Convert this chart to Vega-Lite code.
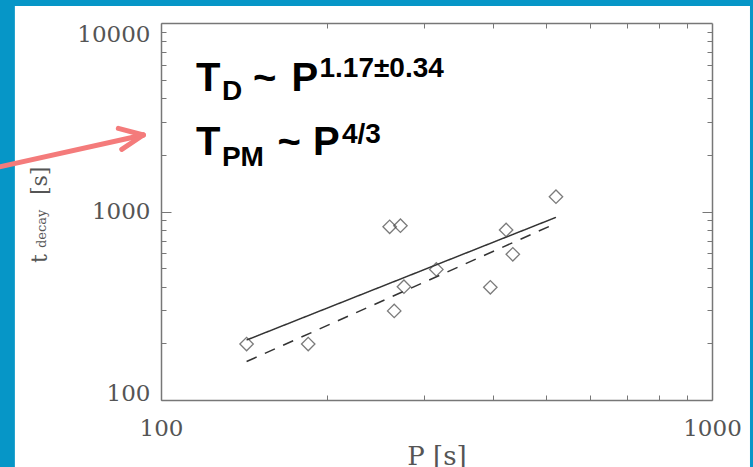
{
  "$schema": "https://vega.github.io/schema/vega-lite/v6.json",
  "width": 551,
  "height": 377,
  "autosize": {"type": "none"},
  "padding": {"left": 161, "top": 23, "right": 41, "bottom": 67},
  "background": "#0696c7",
  "config": {"view": {"stroke": null}},
  "datasets": {
    "points": [
      {"P": 143, "t": 198}, {"P": 185, "t": 198}, {"P": 260, "t": 830}, {"P": 272, "t": 841},
      {"P": 265, "t": 297}, {"P": 276, "t": 399}, {"P": 316, "t": 493}, {"P": 396, "t": 396},
      {"P": 423, "t": 798}, {"P": 435, "t": 593}, {"P": 521, "t": 1198}
    ],
    "fits": [
      {"fit": "solid", "P": 143, "t": 208}, {"fit": "solid", "P": 521, "t": 931},
      {"fit": "dashed", "P": 143, "t": 160}, {"fit": "dashed", "P": 521, "t": 865}
    ],
    "one": [{}]
  },
  "resolve": {"axis": {"x": "independent", "y": "independent"}},
  "layer": [
    {
      "data": {"name": "one"},
      "mark": {"type": "rect", "fill": "white"},
      "encoding": {
        "x": {"datum": 54.3, "type": "quantitative", "scale": {"type": "log", "domain": [100, 1000]}, "axis": null},
        "x2": {"datum": 1172},
        "y": {"datum": 12300, "type": "quantitative", "scale": {"type": "log", "domain": [100, 10000]}, "axis": null},
        "y2": {"datum": 40}
      }
    },
    {
      "data": {"name": "one"},
      "mark": {"type": "rule", "color": "#f47b7b", "strokeWidth": 5, "strokeCap": "round"},
      "encoding": {
        "x": {"datum": 50, "type": "quantitative", "scale": {"type": "log", "domain": [100, 1000]}, "axis": null},
        "x2": {"datum": 92.87},
        "y": {"datum": 1705, "type": "quantitative", "scale": {"type": "log", "domain": [100, 10000]}, "axis": null},
        "y2": {"datum": 2546}
      }
    },
    {
      "data": {"name": "one"},
      "mark": {"type": "rule", "color": "#f47b7b", "strokeWidth": 5, "strokeCap": "round"},
      "encoding": {
        "x": {"datum": 83.67, "type": "quantitative", "scale": {"type": "log", "domain": [100, 1000]}, "axis": null},
        "x2": {"datum": 92.87},
        "y": {"datum": 2763, "type": "quantitative", "scale": {"type": "log", "domain": [100, 10000]}, "axis": null},
        "y2": {"datum": 2546}
      }
    },
    {
      "data": {"name": "one"},
      "mark": {"type": "rule", "color": "#f47b7b", "strokeWidth": 5, "strokeCap": "round"},
      "encoding": {
        "x": {"datum": 84.88, "type": "quantitative", "scale": {"type": "log", "domain": [100, 1000]}, "axis": null},
        "x2": {"datum": 92.87},
        "y": {"datum": 2138, "type": "quantitative", "scale": {"type": "log", "domain": [100, 10000]}, "axis": null},
        "y2": {"datum": 2546}
      }
    },
    {
      "data": {"name": "fits"},
      "mark": {"type": "line", "color": "#333333", "strokeWidth": 1.5},
      "encoding": {
        "x": {"field": "P", "type": "quantitative", "scale": {"type": "log", "domain": [100, 1000]},
          "axis": {"orient": "top", "values": [200, 300, 400, 500, 600, 700, 800, 900], "tickSize": -5, "tickColor": "#777777", "labels": false, "title": null, "grid": false, "domain": true, "domainColor": "#777777", "domainWidth": 1.5, "zindex": 1}},
        "y": {"field": "t", "type": "quantitative", "scale": {"type": "log", "domain": [100, 10000]},
          "axis": {"orient": "right", "values": [200, 300, 400, 500, 600, 700, 800, 900, 2000, 3000, 4000, 5000, 6000, 7000, 8000, 9000], "tickSize": -5, "tickColor": "#777777", "labels": false, "title": null, "grid": false, "domain": true, "domainColor": "#777777", "domainWidth": 1.5, "zindex": 1}},
        "detail": {"field": "fit"},
        "strokeDash": {"field": "fit", "type": "nominal", "scale": {"domain": ["solid", "dashed"], "range": [[1, 0], [11, 9]]}, "legend": null}
      }
    },
    {
      "data": {"name": "points"},
      "mark": {"type": "point", "shape": "diamond", "size": 180, "filled": false, "stroke": "#444444", "strokeWidth": 1.3},
      "encoding": {
        "x": {"field": "P", "type": "quantitative", "scale": {"type": "log", "domain": [100, 1000]},
          "axis": {"orient": "bottom", "values": [100, 200, 300, 400, 500, 600, 700, 800, 900, 1000], "tickSize": -5, "tickColor": "#777777",
            "labelExpr": "datum.value == 100 || datum.value == 1000 ? datum.label : ''", "format": "d",
            "labelFont": "DejaVu Serif", "labelFontSize": 23, "labelColor": "#555555", "labelPadding": 22, "labelFlush": false,
            "title": "P [s]", "titleFont": "DejaVu Serif", "titleFontSize": 26, "titleFontWeight": "normal", "titleColor": "#555555",
            "titleY": 64, "titleBaseline": "alphabetic",
            "grid": false, "domain": true, "domainColor": "#777777", "domainWidth": 1.5, "zindex": 1}},
        "y": {"field": "t", "type": "quantitative", "scale": {"type": "log", "domain": [100, 10000]},
          "axis": {"orient": "left", "values": [100, 200, 300, 400, 500, 600, 700, 800, 900, 1000, 2000, 3000, 4000, 5000, 6000, 7000, 8000, 9000, 10000], "tickSize": -5, "tickColor": "#777777",
            "labelExpr": "datum.value == 100 || datum.value == 1000 || datum.value == 10000 ? datum.label : ''", "format": "d",
            "labelFont": "DejaVu Serif", "labelFontSize": 23, "labelColor": "#555555", "labelPadding": 16, "labelFlush": false,
            "labelBaseline": {"condition": [{"test": "datum.value >= 10000", "value": "top"}, {"test": "datum.value <= 100", "value": "alphabetic"}], "value": "middle"},
            "title": null, "grid": false, "domain": true, "domainColor": "#777777", "domainWidth": 1.5, "zindex": 1}}
      }
    },
    {
      "data": {"name": "points"},
      "mark": {"type": "point", "opacity": 0},
      "encoding": {
        "x": {"field": "P", "type": "quantitative", "scale": {"type": "log", "domain": [100, 1000]}, "axis": null},
        "y": {"field": "t", "type": "quantitative", "scale": {"type": "log", "domain": [100, 10000]},
          "axis": {"orient": "left", "values": [1000], "tickSize": -10, "tickColor": "#777777", "labels": false, "title": null, "grid": false, "domain": false, "zindex": 1}}
      }
    },
    {
      "data": {"name": "points"},
      "mark": {"type": "point", "opacity": 0},
      "encoding": {
        "x": {"field": "P", "type": "quantitative", "scale": {"type": "log", "domain": [100, 1000]}, "axis": null},
        "y": {"field": "t", "type": "quantitative", "scale": {"type": "log", "domain": [100, 10000]},
          "axis": {"orient": "right", "values": [1000], "tickSize": -10, "tickColor": "#777777", "labels": false, "title": null, "grid": false, "domain": false, "zindex": 1}}
      }
    },
    {
      "data": {"name": "one"},
      "mark": {"type": "text", "font": "Liberation Sans", "fontWeight": "bold", "fontSize": 40, "align": "left", "baseline": "alphabetic", "color": "black"},
      "encoding": {
        "x": {"datum": 115.7, "type": "quantitative", "scale": {"type": "log", "domain": [100, 1000]}, "axis": null},
        "y": {"datum": 4375, "type": "quantitative", "scale": {"type": "log", "domain": [100, 10000]}, "axis": null},
        "text": {"value": "T"}
      }
    },
    {
      "data": {"name": "one"},
      "mark": {"type": "text", "font": "Liberation Sans", "fontWeight": "bold", "fontSize": 28, "align": "left", "baseline": "alphabetic", "color": "black"},
      "encoding": {
        "x": {"datum": 129.0, "type": "quantitative", "scale": {"type": "log", "domain": [100, 1000]}, "axis": null},
        "y": {"datum": 3905, "type": "quantitative", "scale": {"type": "log", "domain": [100, 10000]}, "axis": null},
        "text": {"value": "D"}
      }
    },
    {
      "data": {"name": "one"},
      "mark": {"type": "text", "font": "Liberation Sans", "fontWeight": "bold", "fontSize": 40, "align": "left", "baseline": "alphabetic", "color": "black"},
      "encoding": {
        "x": {"datum": 146.9, "type": "quantitative", "scale": {"type": "log", "domain": [100, 1000]}, "axis": null},
        "y": {"datum": 4375, "type": "quantitative", "scale": {"type": "log", "domain": [100, 10000]}, "axis": null},
        "text": {"value": "~"}
      }
    },
    {
      "data": {"name": "one"},
      "mark": {"type": "text", "font": "Liberation Sans", "fontWeight": "bold", "fontSize": 40, "align": "left", "baseline": "alphabetic", "color": "black"},
      "encoding": {
        "x": {"datum": 172.6, "type": "quantitative", "scale": {"type": "log", "domain": [100, 1000]}, "axis": null},
        "y": {"datum": 4375, "type": "quantitative", "scale": {"type": "log", "domain": [100, 10000]}, "axis": null},
        "text": {"value": "P"}
      }
    },
    {
      "data": {"name": "one"},
      "mark": {"type": "text", "font": "Liberation Sans", "fontWeight": "bold", "fontSize": 28, "align": "left", "baseline": "alphabetic", "color": "black"},
      "encoding": {
        "x": {"datum": 193.9, "type": "quantitative", "scale": {"type": "log", "domain": [100, 1000]}, "axis": null},
        "y": {"datum": 5170, "type": "quantitative", "scale": {"type": "log", "domain": [100, 10000]}, "axis": null},
        "text": {"value": "1.17±0.34"}
      }
    },
    {
      "data": {"name": "one"},
      "mark": {"type": "text", "font": "Liberation Sans", "fontWeight": "bold", "fontSize": 40, "align": "left", "baseline": "alphabetic", "color": "black"},
      "encoding": {
        "x": {"datum": 115.7, "type": "quantitative", "scale": {"type": "log", "domain": [100, 1000]}, "axis": null},
        "y": {"datum": 1994, "type": "quantitative", "scale": {"type": "log", "domain": [100, 10000]}, "axis": null},
        "text": {"value": "T"}
      }
    },
    {
      "data": {"name": "one"},
      "mark": {"type": "text", "font": "Liberation Sans", "fontWeight": "bold", "fontSize": 28, "align": "left", "baseline": "alphabetic", "color": "black"},
      "encoding": {
        "x": {"datum": 129.0, "type": "quantitative", "scale": {"type": "log", "domain": [100, 1000]}, "axis": null},
        "y": {"datum": 1743, "type": "quantitative", "scale": {"type": "log", "domain": [100, 10000]}, "axis": null},
        "text": {"value": "PM"}
      }
    },
    {
      "data": {"name": "one"},
      "mark": {"type": "text", "font": "Liberation Sans", "fontWeight": "bold", "fontSize": 40, "align": "left", "baseline": "alphabetic", "color": "black"},
      "encoding": {
        "x": {"datum": 162.8, "type": "quantitative", "scale": {"type": "log", "domain": [100, 1000]}, "axis": null},
        "y": {"datum": 1994, "type": "quantitative", "scale": {"type": "log", "domain": [100, 10000]}, "axis": null},
        "text": {"value": "~"}
      }
    },
    {
      "data": {"name": "one"},
      "mark": {"type": "text", "font": "Liberation Sans", "fontWeight": "bold", "fontSize": 40, "align": "left", "baseline": "alphabetic", "color": "black"},
      "encoding": {
        "x": {"datum": 188.7, "type": "quantitative", "scale": {"type": "log", "domain": [100, 1000]}, "axis": null},
        "y": {"datum": 1994, "type": "quantitative", "scale": {"type": "log", "domain": [100, 10000]}, "axis": null},
        "text": {"value": "P"}
      }
    },
    {
      "data": {"name": "one"},
      "mark": {"type": "text", "font": "Liberation Sans", "fontWeight": "bold", "fontSize": 28, "align": "left", "baseline": "alphabetic", "color": "black"},
      "encoding": {
        "x": {"datum": 213.0, "type": "quantitative", "scale": {"type": "log", "domain": [100, 1000]}, "axis": null},
        "y": {"datum": 2309, "type": "quantitative", "scale": {"type": "log", "domain": [100, 10000]}, "axis": null},
        "text": {"value": "4/3"}
      }
    },
    {
      "data": {"name": "one"},
      "mark": {"type": "text", "font": "DejaVu Serif", "fontSize": 22, "angle": 270, "align": "left", "baseline": "alphabetic", "color": "#555555"},
      "encoding": {
        "x": {"datum": 62.1, "type": "quantitative", "scale": {"type": "log", "domain": [100, 1000]}, "axis": null},
        "y": {"datum": 533, "type": "quantitative", "scale": {"type": "log", "domain": [100, 10000]}, "axis": null},
        "text": {"value": "t"}
      }
    },
    {
      "data": {"name": "one"},
      "mark": {"type": "text", "font": "DejaVu Serif", "fontSize": 13, "angle": 270, "align": "left", "baseline": "alphabetic", "color": "#555555"},
      "encoding": {
        "x": {"datum": 61.8, "type": "quantitative", "scale": {"type": "log", "domain": [100, 1000]}, "axis": null},
        "y": {"datum": 640, "type": "quantitative", "scale": {"type": "log", "domain": [100, 10000]}, "axis": null},
        "text": {"value": "decay"}
      }
    },
    {
      "data": {"name": "one"},
      "mark": {"type": "text", "font": "DejaVu Serif", "fontSize": 22, "angle": 270, "align": "left", "baseline": "alphabetic", "color": "#555555"},
      "encoding": {
        "x": {"datum": 62.1, "type": "quantitative", "scale": {"type": "log", "domain": [100, 1000]}, "axis": null},
        "y": {"datum": 1223, "type": "quantitative", "scale": {"type": "log", "domain": [100, 10000]}, "axis": null},
        "text": {"value": "[s]"}
      }
    }
  ]
}
